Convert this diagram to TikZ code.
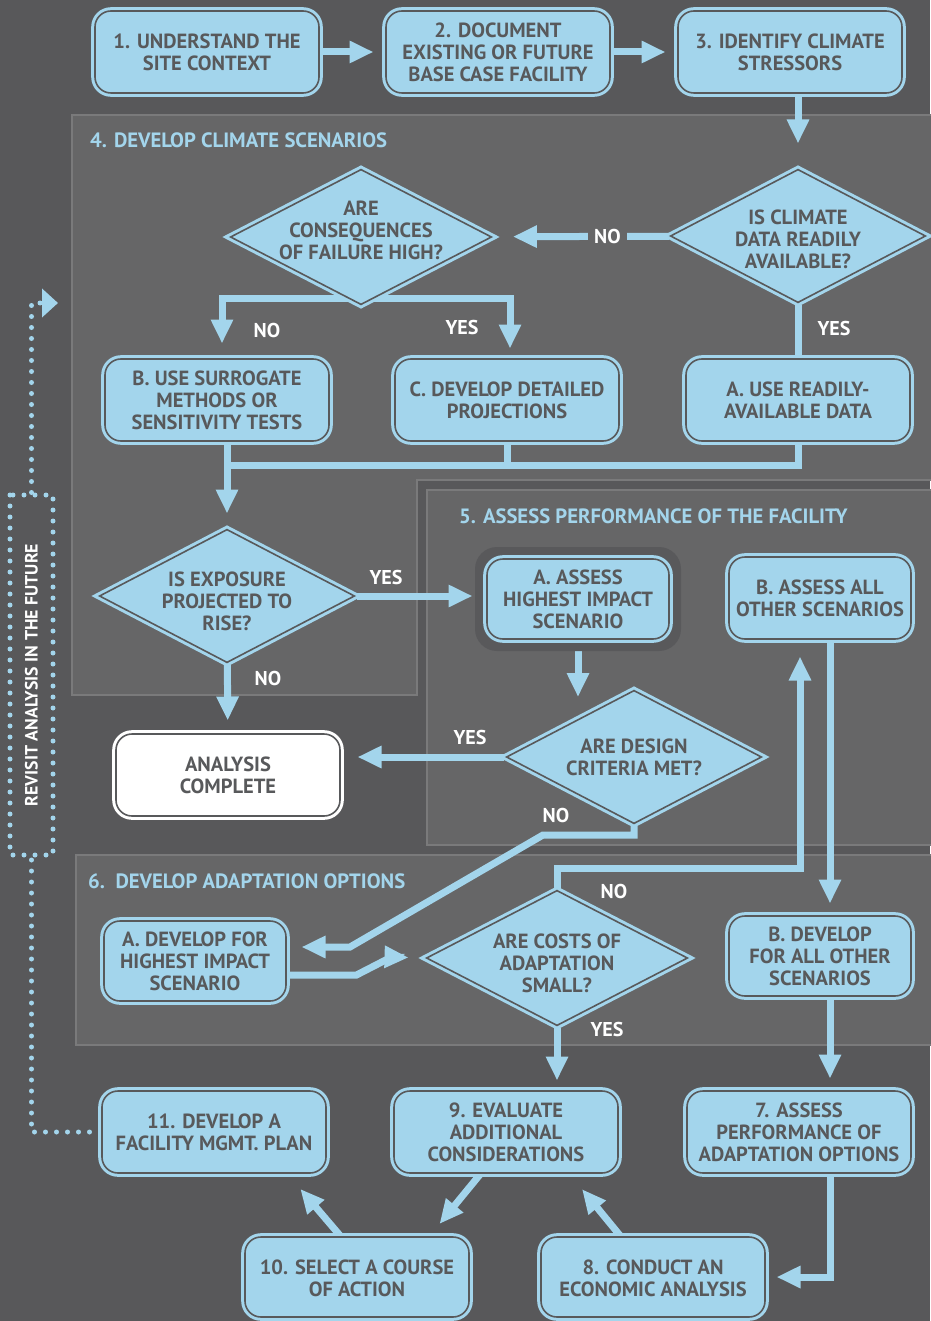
\documentclass[tikz,border=0pt]{standalone}
\usepackage{fontspec}
\setmainfont{PT Sans}
\usetikzlibrary{%
  arrows.meta,
  shapes.geometric,
  calc,
}

\definecolor{bgdark}{RGB}{88,88,90}
\definecolor{panelgray}{RGB}{102,102,103}
\definecolor{panelrule}{RGB}{122,122,123}
\definecolor{haloc}{RGB}{89,89,91}
\definecolor{skyblue}{RGB}{163,213,236}
\definecolor{ink}{RGB}{88,89,91}

\newcommand{\flowfont}{\fontsize{20.5}{22}\selectfont\bfseries}
\newcommand{\panelfont}{\fontsize{20.7}{23}\selectfont\bfseries}
\newcommand{\answerfont}{\fontsize{20}{22}\selectfont\bfseries}
\newcommand{\sidefont}{\fontsize{17.8}{19}\selectfont\bfseries}

\pgfdeclarelayer{back}
\pgfdeclarelayer{links}
\pgfsetlayers{back,links,main}

\begin{document}
\begin{tikzpicture}[
    x = 1pt, y = -1pt,
    box/.style = {
      rectangle, rounded corners = 16pt,
      draw = skyblue, fill = skyblue,
      line width = 3pt, double = ink, double distance = 1.6pt,
      text = ink, font = \flowfont, align = center, inner sep = 0pt,
      minimum width = 224pt, minimum height = 82pt,
    },
    small/.style = {box, minimum width = 182pt, minimum height = 80pt},
    final/.style = {box, draw = white, fill = white},
    halo/.style = {
      rectangle, rounded corners = 22pt, fill = haloc,
      minimum width = 206pt, minimum height = 104pt,
    },
    decision/.style = {
      diamond, draw = skyblue, fill = skyblue,
      line width = 3pt, double = ink, double distance = 1.6pt,
      inner sep = 0pt, minimum width = 256pt, minimum height = 134pt,
    },
    question/.style = {text = ink, font = \flowfont, align = center},
    answer/.style = {text = white, font = \answerfont, inner sep = 6pt},
    heading/.style = {text = skyblue, font = \panelfont, anchor = west, inner sep = 0pt},
    panel/.style = {fill = panelgray, draw = panelrule, line width = 2pt},
    link/.style = {draw = skyblue, line width = 7pt},
    arrow/.style = {link, -{Triangle[length = 24pt, width = 21pt]}},
    dots/.style = {
      draw = skyblue, line width = 5pt, line cap = round,
      dash pattern = on 0pt off 11pt,
    },
    revisit/.style = {
      dots, rotate = 90, inner sep = 0pt,
      minimum width = 360pt, minimum height = 43pt,
      text = white, font = \sidefont,
    },
  ]
  \useasboundingbox (0,0) rectangle (930,1321);

  \begin{pgfonlayer}{back}
    \fill[bgdark] (0,0) rectangle (930,1321);
    \draw[panel] (72,115) -- (934,115) -- (934,480) -- (417,480)
      -- (417,695) -- (72,695) -- cycle;
    \draw[panel] (427,490) rectangle (934,845);
    \draw[panel] (76,855) rectangle (934,1045);
  \end{pgfonlayer}

  \node[heading] (t4) at (90,140) {4. DEVELOP CLIMATE SCENARIOS};
  \node[heading] (t5) at (459,516) {5. ASSESS PERFORMANCE OF THE FACILITY};
  \node[heading] (t6) at (88,881) {6.\ \ DEVELOP ADAPTATION OPTIONS};

  % top row
  \node[box] (n1) at (207,52) {1. UNDERSTAND THE\\SITE CONTEXT};
  \node[box] (n2) at (498,52) {2. DOCUMENT\\EXISTING OR FUTURE\\BASE CASE FACILITY};
  \node[box] (n3) at (790,52) {3. IDENTIFY CLIMATE\\STRESSORS};

  % climate scenarios
  \node[decision, label = {[question, name = d1q, yshift = -3pt]center:IS CLIMATE\\DATA READILY\\AVAILABLE?}]
    (d1) at (798,236) {};
  \node[decision, minimum width = 262pt, minimum height = 136pt,
    label = {[question, name = d2q, yshift = 7pt]center:ARE\\CONSEQUENCES\\OF FAILURE HIGH?}]
    (d2) at (361,237) {};
  \node[box] (b4) at (217,400) {B. USE SURROGATE\\METHODS OR\\SENSITIVITY TESTS};
  \node[box] (c4) at (507,400) {C. DEVELOP DETAILED\\PROJECTIONS};
  \node[box] (a4) at (798,400) {A. USE READILY-\\AVAILABLE DATA};
  \node[decision, label = {[question, name = d3q, yshift = -5pt]center:IS EXPOSURE\\PROJECTED TO\\RISE?}]
    (d3) at (227,596) {};
  \node[final] (done) at (228,775) {ANALYSIS\\COMPLETE};

  % facility performance
  \node[halo] (a5halo) at (578,599) {};
  \node[small] (a5) at (578,599) {A. ASSESS\\HIGHEST IMPACT\\SCENARIO};
  \node[small, minimum height = 82pt] (b5) at (820,598) {B. ASSESS ALL\\OTHER SCENARIOS};
  \node[decision, label = {[question, name = d4q]center:ARE DESIGN\\CRITERIA MET?}]
    (d4) at (634,757) {};

  % adaptation options
  \node[small] (a6) at (195,961) {A. DEVELOP FOR\\HIGHEST IMPACT\\SCENARIO};
  \node[decision, minimum width = 262pt, minimum height = 136pt,
    label = {[question, name = d5q, yshift = -5pt]center:ARE COSTS OF\\ADAPTATION\\SMALL?}]
    (d5) at (557,958) {};
  \node[small] (b6) at (820,956) {B. DEVELOP\\FOR ALL OTHER\\SCENARIOS};

  % bottom rows
  \node[box] (n11) at (214,1132) {11. DEVELOP A\\FACILITY MGMT. PLAN};
  \node[box] (n9) at (506,1132) {9. EVALUATE\\ADDITIONAL\\CONSIDERATIONS};
  \node[box] (n7) at (799,1132) {7. ASSESS\\PERFORMANCE OF\\ADAPTATION OPTIONS};
  \node[box, minimum height = 80pt] (n10) at (357,1277)
    {\raisebox{-9pt}[0pt][0pt]{\begin{tabular}{@{}c@{}}10. SELECT A COURSE\\OF ACTION\end{tabular}}};
  \node[box, minimum height = 80pt] (n8) at (653,1277)
    {\raisebox{-9pt}[0pt][0pt]{\begin{tabular}{@{}c@{}}8. CONDUCT AN\\ECONOMIC ANALYSIS\end{tabular}}};

  \node[revisit] (rv) at (31.5,675) {REVISIT ANALYSIS IN THE FUTURE};

  % yes / no
  \node[answer] (no2) at (267,330) {NO};
  \node[answer] (yes2) at (462,327) {YES};
  \node[answer] (yes1) at (834,328) {YES};
  \node[answer] (yes3) at (386,577) {YES};
  \node[answer] (no3) at (268,678) {NO};
  \node[answer] (yes4) at (470,737) {YES};
  \node[answer] (no4) at (556,815) {NO};
  \node[answer] (no5) at (614,891) {NO};
  \node[answer] (yes5) at (607,1029) {YES};

  \coordinate (a5in) at (578,697);
  \coordinate (d4kink) at (543,835);
  \coordinate (a6kink) at (350,947);
  \coordinate (d5kink) at (800,868);
  \coordinate (back) at (58,303);

  \begin{pgfonlayer}{links}
    \draw[arrow, shorten >= 11pt] (n1) -- (n2);
    \draw[arrow, shorten >= 11pt] (n2) -- (n3);
    \draw[arrow, shorten >= 24pt] (n3.south -| d1) -- (d1.north);
    \draw[arrow, shorten >= 20pt] (d1) --
      node[answer, fill = panelgray, pos = 0.35] (no1) {NO} (d2);
    \draw[arrow, shorten >= 14pt] (d2.south) ++(0,-8) -| ([xshift = 5pt]b4.north);
    \draw[arrow, shorten >= 9pt] (d2.south) ++(0,-8) -| ([xshift = 3pt]c4.north);
    \draw[link] (d1) -- (a4);

    \draw[link] (c4.south) -- ++(0,23);
    \draw[link] (b4.south -| d3) -- ++(0,23);
    \draw[arrow, shorten >= 14pt] (a4.south) -- ++(0,23) -| (d3.north);
    \draw[arrow, shorten >= 13pt] (d3) -- (d3 -| a5.west);
    \draw[arrow, shorten >= 12pt] (d3) -- (done);

    \draw[arrow] (a5) -- (a5in);
    \draw[arrow, shorten >= 16pt] (d4) -- (d4 -| done.east);
    \draw[arrow, shorten >= 14pt] (d4.south) |- (d4kink) -- (a6kink) -- (a6kink -| a6.east);
    \draw[arrow, shorten >= 11pt] ([xshift = 10pt]b5.south) -- ([xshift = 10pt]b6.north);

    \draw[arrow, shorten >= 16pt] (d5.north) |- (d5kink) -- ([xshift = -20pt]b5.south);
    \draw[arrow, shorten >= 16pt] ([yshift = -14pt]a6.east) -- ++(69,0) -- ++(35,-18) -- (d5.west);
    \draw[arrow, shorten >= 11pt] ([xshift = 10pt]b6.south) -- ([xshift = 31pt]n7.north);
    \draw[arrow, shorten >= 9pt] (d5) -- (d5 |- n9.north);

    \draw[arrow, shorten >= 10pt] ([xshift = 31pt]n7.south) |- (n8.east);
    \draw[arrow, shorten >= 19pt] ([xshift = -33pt]n8.north) -- ([xshift = 64pt]n9.south);
    \draw[arrow, shorten >= 15pt] ([xshift = -26pt]n9.south) -- ([xshift = 73pt]n10.north);
    \draw[arrow, shorten >= 19pt] ([xshift = -17pt]n10.north) -- ([xshift = 74pt]n11.south);

    \draw[dots] (n11.west) -| (rv.west);
    \draw[dots, -{Triangle[length = 16pt, width = 28pt]}] (rv.east) |- (back);
  \end{pgfonlayer}
\end{tikzpicture}
\end{document}
